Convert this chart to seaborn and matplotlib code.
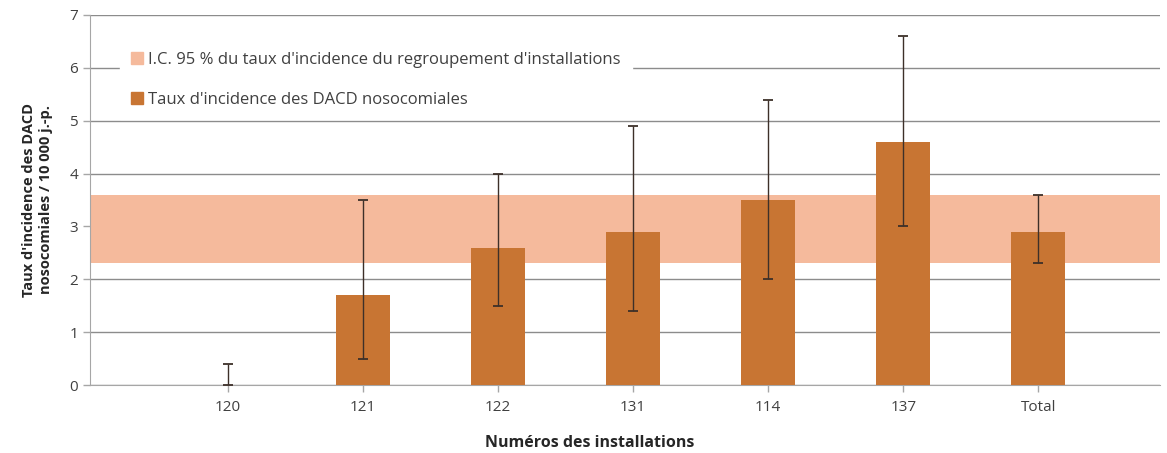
import numpy as np
import pandas as pd
import matplotlib
matplotlib.use('Agg')
import matplotlib.pyplot as plt
import matplotlib.patches as mpatches
import seaborn as sns

# Données
installations = ['120', '121', '122', '131', '114', '137', 'Total']
taux = [0.0, 1.7, 2.6, 2.9, 3.5, 4.6, 2.9]
ic_bas = [0.0, 0.5, 1.5, 1.4, 2.0, 3.0, 2.3]
ic_haut = [0.4, 3.5, 4.0, 4.9, 5.4, 6.6, 3.6]
ic_regroupement = [2.3, 3.6]

couleur_barre = '#C87533'
couleur_bande = '#F5BA9C'

df = pd.DataFrame({'installation': installations, 'taux': taux,
                   'bas': ic_bas, 'haut': ic_haut})

sns.set_style('white')
plt.rcParams['font.family'] = ['Open Sans', 'DejaVu Sans']

fig = plt.figure(figsize=(11.67, 4.53), dpi=100)
ax = fig.add_axes([0.077, 0.150, 0.917, 0.817])

# Bande IC 95 % du regroupement
ax.axhspan(ic_regroupement[0], ic_regroupement[1], color=couleur_bande, zorder=1, lw=0)

sns.barplot(data=df, x='installation', y='taux', order=installations,
            color=couleur_barre, width=0.4, saturation=1, ax=ax, zorder=3,
            edgecolor='none', linewidth=0)

# Barres d'erreur
pos = np.arange(len(installations))
err = [df['taux'] - df['bas'], df['haut'] - df['taux']]
ax.errorbar(pos, df['taux'], yerr=err, fmt='none', ecolor='#3d3029',
            elinewidth=1, capsize=3.5, capthick=1.3, zorder=4)

ax.set_ylim(0, 7)
ax.set_xlim(-1.02, 6.9)
ax.set_yticks(range(0, 8))
ax.yaxis.grid(True, color='#8c8c8c', lw=1, zorder=0)
ax.set_axisbelow(True)

for s in ['top', 'right']:
    ax.spines[s].set_visible(False)
ax.spines['left'].set_color('#a6a6a6')
ax.spines['bottom'].set_color('#a6a6a6')
ax.tick_params(axis='both', colors='#404040', labelsize=11, length=5, width=1,
               direction='out', left=True, bottom=True)
ax.tick_params(axis='both', color='#a6a6a6')
ax.tick_params(axis='x', pad=6)

ax.set_xlabel('Numéros des installations', fontsize=11.5, fontweight='bold',
              color='#262626')
ax.xaxis.set_label_coords(0.467, -0.135)
ax.set_ylabel("Taux d'incidence des DACD\nnosocomiales / 10 000 j.-p.",
              fontsize=10.5, fontweight='bold', color='#262626', labelpad=12)

handles = [mpatches.Patch(color=couleur_bande,
                          label="I.C. 95 % du taux d'incidence du regroupement d'installations"),
           mpatches.Patch(color=couleur_barre,
                          label="Taux d'incidence des DACD nosocomiales")]
leg = ax.legend(handles=handles, loc='upper left', bbox_to_anchor=(0.02, 0.955),
                frameon=True, fontsize=12, handlelength=0.7, handleheight=0.7,
                handletextpad=0.3, labelspacing=1.45, borderpad=0.7, fancybox=False)
leg.get_frame().set_edgecolor('white')
leg.get_frame().set_facecolor('white')
leg.get_frame().set_alpha(1)
leg.set_zorder(2)
for t in leg.get_texts():
    t.set_color('#404040')

fig.savefig('out.png', dpi=100)
